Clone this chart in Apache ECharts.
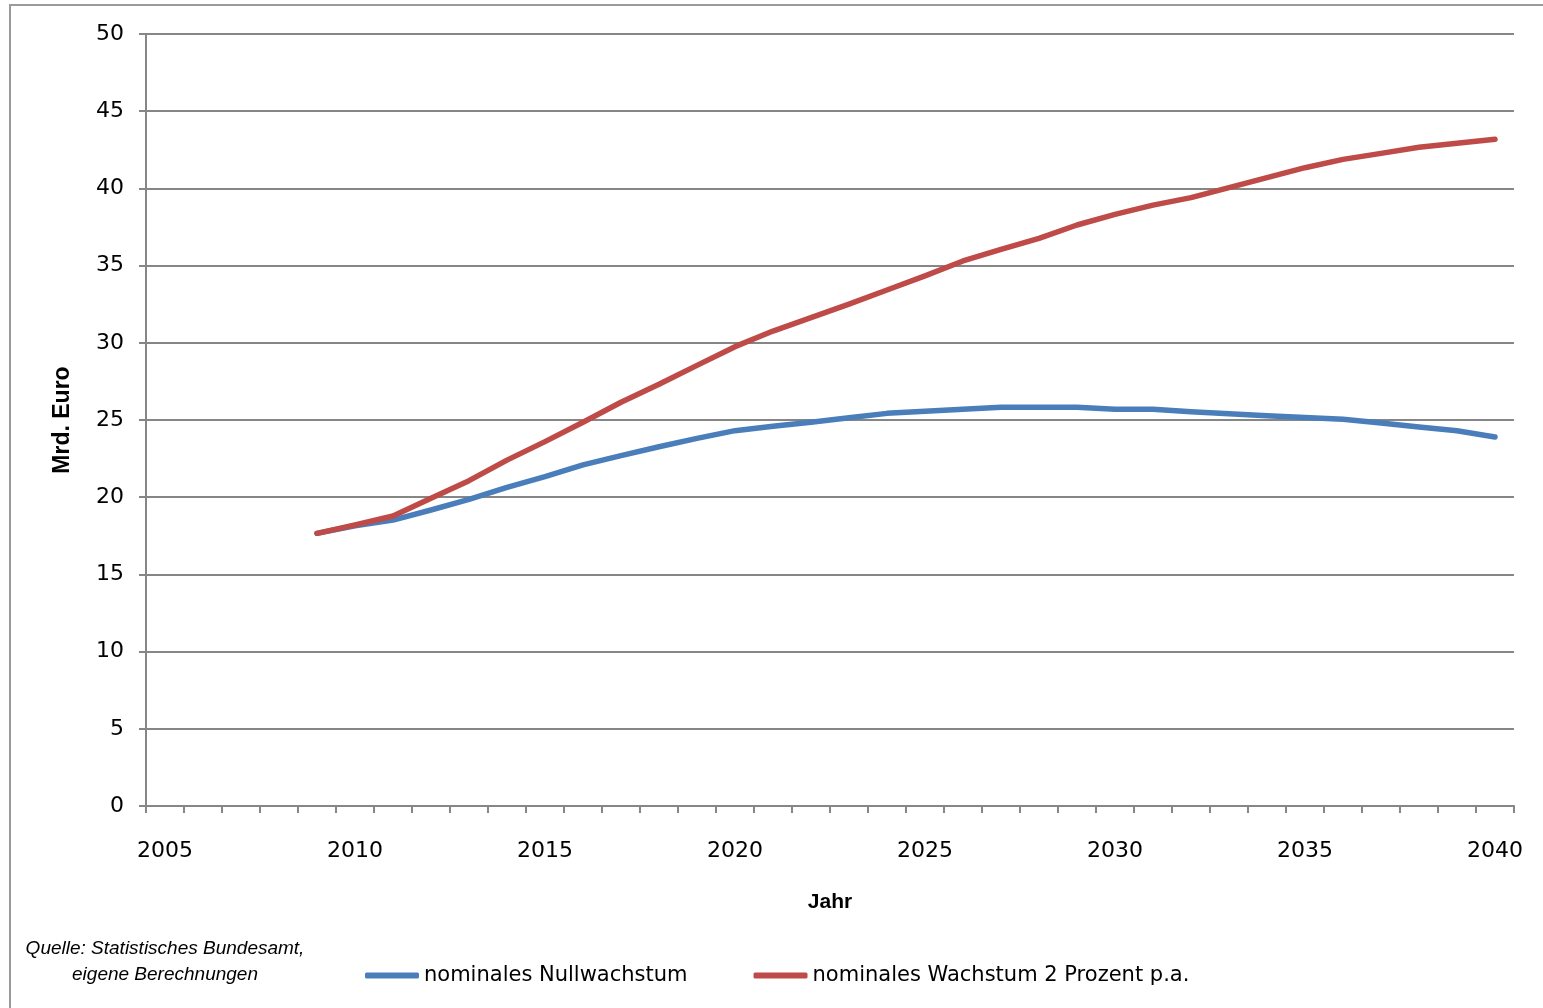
<!DOCTYPE html>
<html>
<head>
<meta charset="utf-8">
<script src="https://cdn.jsdelivr.net/npm/echarts@6/dist/echarts.min.js"></script>
<style>
html,body{margin:0;padding:0;background:#fff;}
#chart{width:1543px;height:1008px;}
</style>
</head>
<body>
<div id="chart"></div>
<script>
var years = ['2005','2006','2007','2008','2009','2010','2011','2012','2013','2014','2015','2016','2017','2018','2019','2020','2021','2022','2023','2024','2025','2026','2027','2028','2029','2030','2031','2032','2033','2034','2035','2036','2037','2038','2039','2040'];
var nullwachstum = [null,null,null,null,17.66,18.15,18.52,19.17,19.86,20.64,21.33,22.09,22.69,23.27,23.81,24.31,24.6,24.85,25.15,25.43,25.56,25.69,25.82,25.82,25.82,25.69,25.69,25.53,25.4,25.27,25.16,25.05,24.8,24.55,24.3,23.9];
var wachstum2 = [null,null,null,null,17.66,18.2,18.78,19.93,21.07,22.4,23.6,24.85,26.15,27.31,28.54,29.75,30.76,31.63,32.51,33.42,34.33,35.3,36.05,36.76,37.63,38.32,38.92,39.4,40.05,40.7,41.34,41.88,42.27,42.66,42.92,43.18];
var seriesNames = ['nominales Nullwachstum','nominales Wachstum 2 Prozent p.a.'];
var xTitle = 'Jahr';
var yTitle = 'Mrd. Euro';
var sourceLines = ['Quelle: Statistisches Bundesamt,','eigene Berechnungen'];

var chart = echarts.init(document.getElementById('chart'));
var axisGray = '#868686';
var font = 'DejaVu Sans';
chart.setOption({
  animation:false,
  backgroundColor:'#ffffff',
  graphic:[
    {type:'rect', shape:{x:10,y:5,width:1600,height:1100}, style:{fill:'none',stroke:'#9a9a9a',lineWidth:2}, silent:true, z:-1},
    {type:'text', x:165, y:949, style:{text:sourceLines[0], font:'italic 19px "Liberation Sans"', fill:'#000', textAlign:'center', textVerticalAlign:'middle'}},
    {type:'text', x:165, y:975, style:{text:sourceLines[1], font:'italic 19px "Liberation Sans"', fill:'#000', textAlign:'center', textVerticalAlign:'middle'}}
  ],
  grid:{left:146, right:29, top:34, bottom:202},
  legend:{
    left:360, top:960, itemWidth:54, itemHeight:6, itemGap:66, icon:'roundRect',
    textStyle:{fontFamily:font, fontSize:21, color:'#000'},
    data:seriesNames
  },
  xAxis:{
    type:'category', data:years, boundaryGap:true,
    name:xTitle, nameLocation:'middle', nameGap:86,
    nameTextStyle:{fontFamily:'Liberation Sans', fontWeight:'bold', fontSize:21, color:'#000'},
    axisLine:{lineStyle:{color:axisGray, width:2}},
    axisTick:{show:true, interval:0, length:7, lineStyle:{color:axisGray, width:2}},
    axisLabel:{interval:4, margin:34, fontFamily:font, fontSize:22, color:'#000'},
    splitLine:{show:false}
  },
  yAxis:{
    type:'value', min:0, max:50, interval:5,
    name:yTitle, nameLocation:'middle', nameGap:72, nameRotate:90,
    nameTextStyle:{fontFamily:'Liberation Sans', fontWeight:'bold', fontSize:23, color:'#000'},
    axisLine:{show:true, lineStyle:{color:axisGray, width:2}},
    axisTick:{show:true, length:7, lineStyle:{color:axisGray, width:2}},
    axisLabel:{margin:22, fontFamily:font, fontSize:22, color:'#000'},
    splitLine:{show:true, lineStyle:{color:axisGray, width:2}}
  },
  series:[
    {name:seriesNames[0], type:'line', data:nullwachstum, symbol:'none', showSymbol:false,
     itemStyle:{color:'#4a7ebb'}, lineStyle:{color:'#4a7ebb', width:5.5, cap:'round', join:'round'}},
    {name:seriesNames[1], type:'line', data:wachstum2, symbol:'none', showSymbol:false,
     itemStyle:{color:'#be4b48'}, lineStyle:{color:'#be4b48', width:5.5, cap:'round', join:'round'}}
  ]
});
</script>
</body>
</html>
